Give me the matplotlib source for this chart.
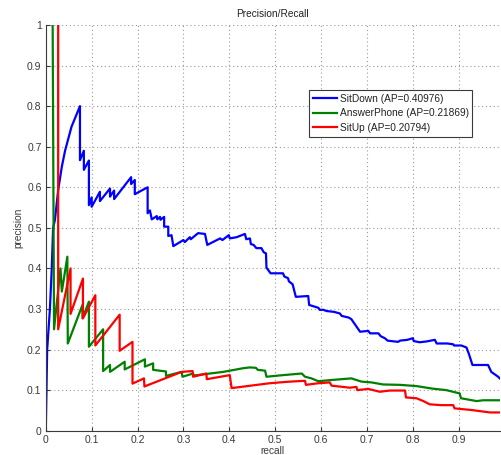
import matplotlib
matplotlib.use("Agg")
import matplotlib.pyplot as plt

# precision/recall vertices of each detector
sitdown_recall = [0, 0.003, 0.009, 0.013, 0.016, 0.02, 0.027, 0.035, 0.042,
                  0.056, 0.0745, 0.0745, 0.083, 0.083, 0.094, 0.094, 0.1, 0.1,
                  0.118, 0.118, 0.14, 0.14, 0.149, 0.149, 0.186, 0.186, 0.194,
                  0.194, 0.222, 0.222, 0.227, 0.231, 0.242, 0.243, 0.249,
                  0.25, 0.258, 0.258, 0.267, 0.267, 0.274, 0.278, 0.30, 0.303,
                  0.314, 0.316, 0.332, 0.347, 0.352, 0.38, 0.385, 0.399, 0.401,
                  0.416, 0.434, 0.437, 0.445, 0.447, 0.453, 0.459, 0.47, 0.475,
                  0.48, 0.481, 0.49, 0.517, 0.52, 0.528, 0.53, 0.538, 0.545,
                  0.572, 0.574, 0.594, 0.597, 0.605, 0.612, 0.628, 0.641,
                  0.645, 0.652, 0.66, 0.666, 0.685, 0.703, 0.707, 0.725, 0.73,
                  0.739, 0.745, 0.768, 0.772, 0.788, 0.80, 0.802, 0.815, 0.83,
                  0.848, 0.852, 0.875, 0.888, 0.89, 0.906, 0.917, 0.922, 0.93,
                  0.964, 0.971, 0.986, 0.993]
sitdown_prec = [0, 0.2, 0.3, 0.40, 0.50, 0.52, 0.593, 0.651, 0.69, 0.749,
                0.80, 0.667, 0.69, 0.643, 0.666, 0.556, 0.575, 0.552, 0.589,
                0.566, 0.597, 0.577, 0.592, 0.571, 0.625, 0.608, 0.618, 0.583,
                0.600, 0.536, 0.543, 0.521, 0.529, 0.521, 0.527, 0.52, 0.527,
                0.503, 0.503, 0.48, 0.482, 0.455, 0.47, 0.465, 0.477, 0.472,
                0.487, 0.485, 0.458, 0.474, 0.47, 0.482, 0.474, 0.477, 0.485,
                0.472, 0.474, 0.46, 0.458, 0.45, 0.45, 0.44, 0.437, 0.402,
                0.388, 0.388, 0.38, 0.376, 0.368, 0.361, 0.33, 0.332, 0.31,
                0.303, 0.298, 0.298, 0.295, 0.293, 0.289, 0.283, 0.281, 0.279,
                0.275, 0.244, 0.246, 0.24, 0.240, 0.233, 0.228, 0.222, 0.219,
                0.222, 0.224, 0.228, 0.221, 0.218, 0.22, 0.224, 0.215, 0.215,
                0.213, 0.21, 0.21, 0.205, 0.19, 0.162, 0.162, 0.145, 0.133,
                0.125]

phone_recall = [0.015, 0.018, 0.032, 0.035, 0.047, 0.048, 0.08, 0.08, 0.094,
                0.094, 0.125, 0.125, 0.14, 0.14, 0.172, 0.172, 0.216, 0.216,
                0.234, 0.234, 0.262, 0.262, 0.296, 0.298, 0.321, 0.323, 0.358,
                0.387, 0.43, 0.445, 0.458, 0.462, 0.478, 0.481, 0.517, 0.558,
                0.565, 0.579, 0.594, 0.623, 0.666, 0.688, 0.71, 0.735, 0.772,
                0.808, 0.841, 0.873, 0.902, 0.905, 0.939, 0.953, 0.99]
phone_prec = [1.0, 0.25, 0.40, 0.343, 0.429, 0.215, 0.31, 0.277, 0.318,
              0.207, 0.25, 0.147, 0.162, 0.145, 0.17, 0.151, 0.176, 0.158,
              0.166, 0.150, 0.146, 0.135, 0.145, 0.133, 0.141, 0.136, 0.141,
              0.145, 0.154, 0.156, 0.155, 0.15, 0.148, 0.133, 0.137, 0.141,
              0.133, 0.129, 0.122, 0.125, 0.129, 0.121, 0.119, 0.114, 0.113,
              0.110, 0.104, 0.100, 0.092, 0.080, 0.073, 0.075, 0.075]

situp_recall = [0.027, 0.027, 0.054, 0.054, 0.081, 0.081, 0.108, 0.108,
                0.161, 0.161, 0.189, 0.189, 0.214, 0.215, 0.296, 0.32, 0.321,
                0.35, 0.351, 0.401, 0.405, 0.488, 0.532, 0.565, 0.567, 0.594,
                0.619, 0.623, 0.663, 0.677, 0.679, 0.703, 0.728, 0.75, 0.783,
                0.785, 0.808, 0.823, 0.837, 0.862, 0.888, 0.891, 0.928, 0.968,
                0.99]
situp_prec = [1.0, 0.25, 0.40, 0.288, 0.375, 0.277, 0.334, 0.21, 0.286,
              0.197, 0.219, 0.116, 0.129, 0.109, 0.145, 0.147, 0.133, 0.141,
              0.127, 0.137, 0.105, 0.117, 0.121, 0.123, 0.113, 0.117, 0.119,
              0.111, 0.106, 0.108, 0.100, 0.103, 0.096, 0.099, 0.099, 0.082,
              0.080, 0.073, 0.065, 0.063, 0.063, 0.055, 0.051, 0.045, 0.045]

labels = ["SitDown (AP=0.40976)", "AnswerPhone (AP=0.21869)",
          "SitUp (AP=0.20794)"]
ticks = [0, 0.1, 0.2, 0.3, 0.4, 0.5, 0.6, 0.7, 0.8, 0.9, 1]
tick_labels = ["0", "0.1", "0.2", "0.3", "0.4", "0.5", "0.6", "0.7", "0.8",
               "0.9", "1"]


def main():
    plt.rcParams["font.family"] = ["Liberation Sans", "DejaVu Sans"]
    grey = "#3a3a3a"
    fig = plt.figure(figsize=(5.02, 4.55), dpi=100)
    ax = fig.add_axes([0.0912, 0.0534, 0.9048, 0.8916])

    ax.plot(sitdown_recall, sitdown_prec, color=(0, 0, 1), lw=1.6,
            label=labels[0])
    ax.plot(phone_recall, phone_prec, color=(0, 0.5, 0), lw=1.6,
            label=labels[1])
    ax.plot(situp_recall, situp_prec, color=(1, 0, 0), lw=1.6,
            label=labels[2])

    ax.set_xlim(0, 0.99)
    ax.set_ylim(0, 1)
    ax.set_xticks(ticks[:-1])
    ax.set_xticklabels(tick_labels[:-1])
    ax.set_yticks(ticks)
    ax.set_yticklabels(tick_labels)
    ax.grid(True, linestyle=(0, (1, 2.5)), color="#9a9a9a", lw=0.8)
    ax.tick_params(direction="in", length=3, colors=grey, labelsize=7.5,
                   pad=3)
    for side in ("top", "right"):
        ax.spines[side].set_visible(False)
    for side in ("left", "bottom"):
        ax.spines[side].set_color(grey)
        ax.spines[side].set_linewidth(0.8)

    ax.set_title("Precision/Recall", fontsize=7.3, color="#222222", pad=6)
    ax.set_xlabel("recall", fontsize=7.3, color=grey, labelpad=1)
    ax.set_ylabel("precision", fontsize=7.3, color=grey, labelpad=3)

    leg = ax.legend(loc="upper left", bbox_to_anchor=(0.58, 0.839),
                    borderaxespad=0, fontsize=7.3, handlelength=2.4,
                    handletextpad=0.25, labelspacing=0.45, borderpad=0.35,
                    fancybox=False, framealpha=1, edgecolor=grey)
    leg.get_frame().set_linewidth(0.8)
    for t in leg.get_texts():
        t.set_color("#222222")

    fig.savefig("out.png", dpi=100)


if __name__ == '__main__':
    main()
